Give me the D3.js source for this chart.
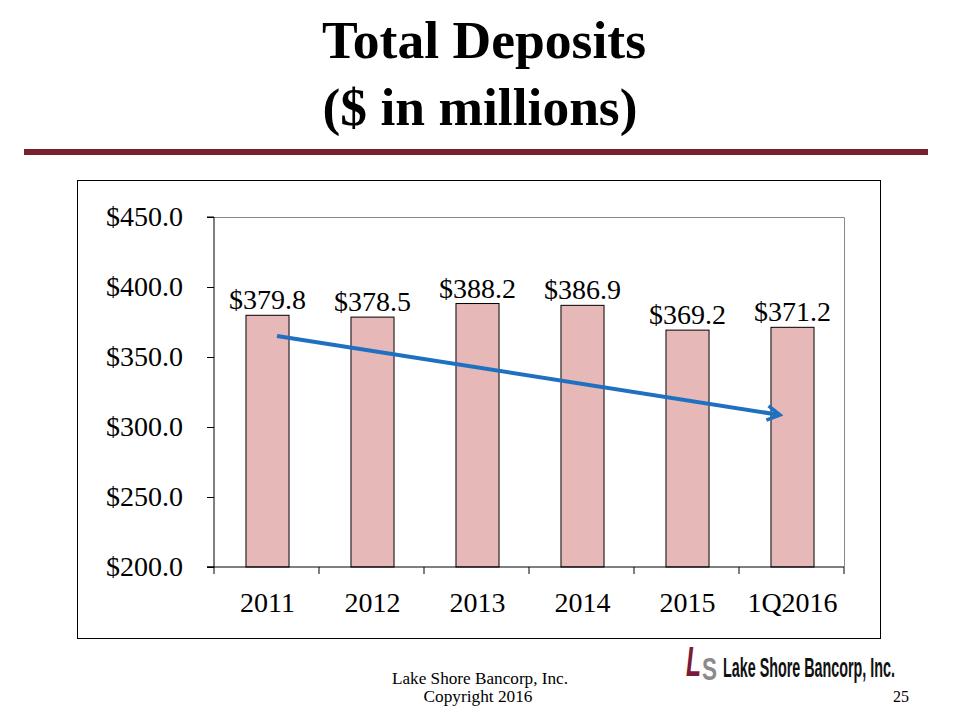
<!DOCTYPE html>
<html><head><meta charset="utf-8">
<script src="https://cdn.jsdelivr.net/npm/d3@7"></script>
<style>body{margin:0;background:#fff}svg{display:block}</style>
</head><body>
<svg id="chart" width="960" height="720"></svg>
<script>
const categories = ["2011","2012","2013","2014","2015","1Q2016"];
const deposits = [379.8, 378.5, 388.2, 386.9, 369.2, 371.2];
const yTicks = [200, 250, 300, 350, 400, 450];
// trend arrow endpoints: [category-index position, value]
const arrowStart = [0.1, 365];
const arrowEnd = [4.89, 308.6];

(function(){
const svg = d3.select("#chart");
const serif = "'Liberation Serif','Times New Roman',serif";

// Title
svg.append("text").attr("x",484).attr("y",58).attr("text-anchor","middle")
  .attr("font-family",serif).attr("font-weight","bold").attr("font-size",52)
  .attr("textLength",324).attr("lengthAdjust","spacingAndGlyphs").text("Total Deposits");
svg.append("text").attr("x",480).attr("y",125).attr("text-anchor","middle")
  .attr("font-family",serif).attr("font-weight","bold").attr("font-size",52)
  .attr("textLength",315).attr("lengthAdjust","spacingAndGlyphs").text("($ in millions)");
svg.append("rect").attr("x",24).attr("y",149).attr("width",904).attr("height",6).attr("fill","#77212d");

// chart frame
svg.append("rect").attr("x",77.5).attr("y",180.5).attr("width",803).attr("height",458)
  .attr("fill","#fff").attr("stroke","#000").attr("stroke-width",1);

const pl=214, pr=844, pt=217, pb=567;
const x = d3.scaleBand().domain(categories).range([pl,pr]).paddingInner(0.59).paddingOuter(0.295);
const xc = d3.scaleLinear().domain([0,categories.length]).range([pl,pr]);
const y = d3.scaleLinear().domain([200,450]).range([pb,pt]);

// plot border (top & right gray)
svg.append("path").attr("d",`M${pl},${pt+0.5}H${pr+0.5}V${pb}`)
  .attr("fill","none").attr("stroke","#888").attr("stroke-width",1);

// bars
svg.selectAll("rect.bar").data(deposits).join("rect").attr("class","bar")
  .attr("x",(d,i)=>x(categories[i])+1).attr("width",x.bandwidth())
  .attr("y",d=>y(d)).attr("height",d=>y(200)-y(d))
  .attr("fill","#e6b8b7").attr("stroke","#000").attr("stroke-width",1);

// labels
svg.selectAll("text.lbl").data(deposits).join("text").attr("class","lbl")
  .attr("x",(d,i)=>x(categories[i])+x.bandwidth()/2+1).attr("y",d=>y(d)-6)
  .attr("text-anchor","middle").attr("font-family",serif).attr("font-size",28)
  .text(d=>"$"+d.toFixed(1));

// y axis
const yAxis = d3.axisLeft(y).tickValues(yTicks).tickSize(7).tickPadding(24)
  .tickFormat(d=>"$"+d.toFixed(1));
const gy = svg.append("g").attr("transform",`translate(${pl},0)`).call(yAxis);
gy.select(".domain").attr("d",`M-7,${pt}H0V${pb}H-7`).attr("stroke","#000");
gy.selectAll("text").attr("font-family",serif).attr("font-size",28).attr("fill","#000");

// x axis with ticks at band boundaries
const gx = svg.append("g").attr("transform",`translate(0,${pb})`);
gx.append("line").attr("x1",pl-7).attr("x2",pr).attr("stroke","#000");
gx.selectAll("line.tk").data(d3.range(categories.length+1)).join("line").attr("class","tk")
  .attr("x1",d=>xc(d)).attr("x2",d=>xc(d)).attr("y1",0).attr("y2",7).attr("stroke","#000");
gx.selectAll("text").data(categories).join("text")
  .attr("x",(d)=>x(d)+x.bandwidth()/2+1).attr("y",45)
  .attr("text-anchor","middle").attr("font-family",serif).attr("font-size",28).text(d=>d);

// trend arrow
const defs = svg.append("defs");
defs.append("marker").attr("id","ah").attr("viewBox","0 0 10 10").attr("refX",8).attr("refY",5)
  .attr("markerWidth",4.5).attr("markerHeight",4.5).attr("orient","auto").attr("markerUnits","strokeWidth")
  .append("path").attr("d","M1,1L8,5L1,9").attr("fill","none").attr("stroke","#1f70c1").attr("stroke-width",2);
svg.append("line")
  .attr("x1",xc(arrowStart[0]+0.5)).attr("y1",y(arrowStart[1]))
  .attr("x2",xc(arrowEnd[0]+0.5)).attr("y2",y(arrowEnd[1]))
  .attr("stroke","#1f70c1").attr("stroke-width",4).attr("marker-end","url(#ah)");

// footer
svg.append("text").attr("x",480).attr("y",684).attr("text-anchor","middle")
  .attr("font-family",serif).attr("font-size",16)
  .attr("textLength",176).attr("lengthAdjust","spacingAndGlyphs").text("Lake Shore Bancorp, Inc.");
svg.append("text").attr("x",478).attr("y",702).attr("text-anchor","middle")
  .attr("font-family",serif).attr("font-size",16)
  .attr("textLength",109).attr("lengthAdjust","spacingAndGlyphs").text("Copyright 2016");
svg.append("text").attr("x",909).attr("y",702).attr("text-anchor","end")
  .attr("font-family",serif).attr("font-size",16).text("25");

// logo (horizontally condensed via transform)
function condensed(txt, x0, y0, size, width, fill, italic){
  const g = svg.append("g");
  const t = g.append("text").attr("x",0).attr("y",0).attr("font-family","'Liberation Sans',sans-serif")
    .attr("font-weight","bold").attr("font-size",size).attr("fill",fill)
    .attr("font-style",italic?"italic":"normal").text(txt);
  const len = t.node().getComputedTextLength();
  g.attr("transform",`translate(${x0},${y0}) scale(${width/len},1)`);
}
condensed("L", 686, 676, 42, 15, "#7a1a3a", true);
condensed("S", 702, 680, 32, 15, "#8a8a8a", false);
condensed("Lake Shore Bancorp, Inc.", 723, 677, 27, 172, "#111", false);
})();
</script>
</body></html>
